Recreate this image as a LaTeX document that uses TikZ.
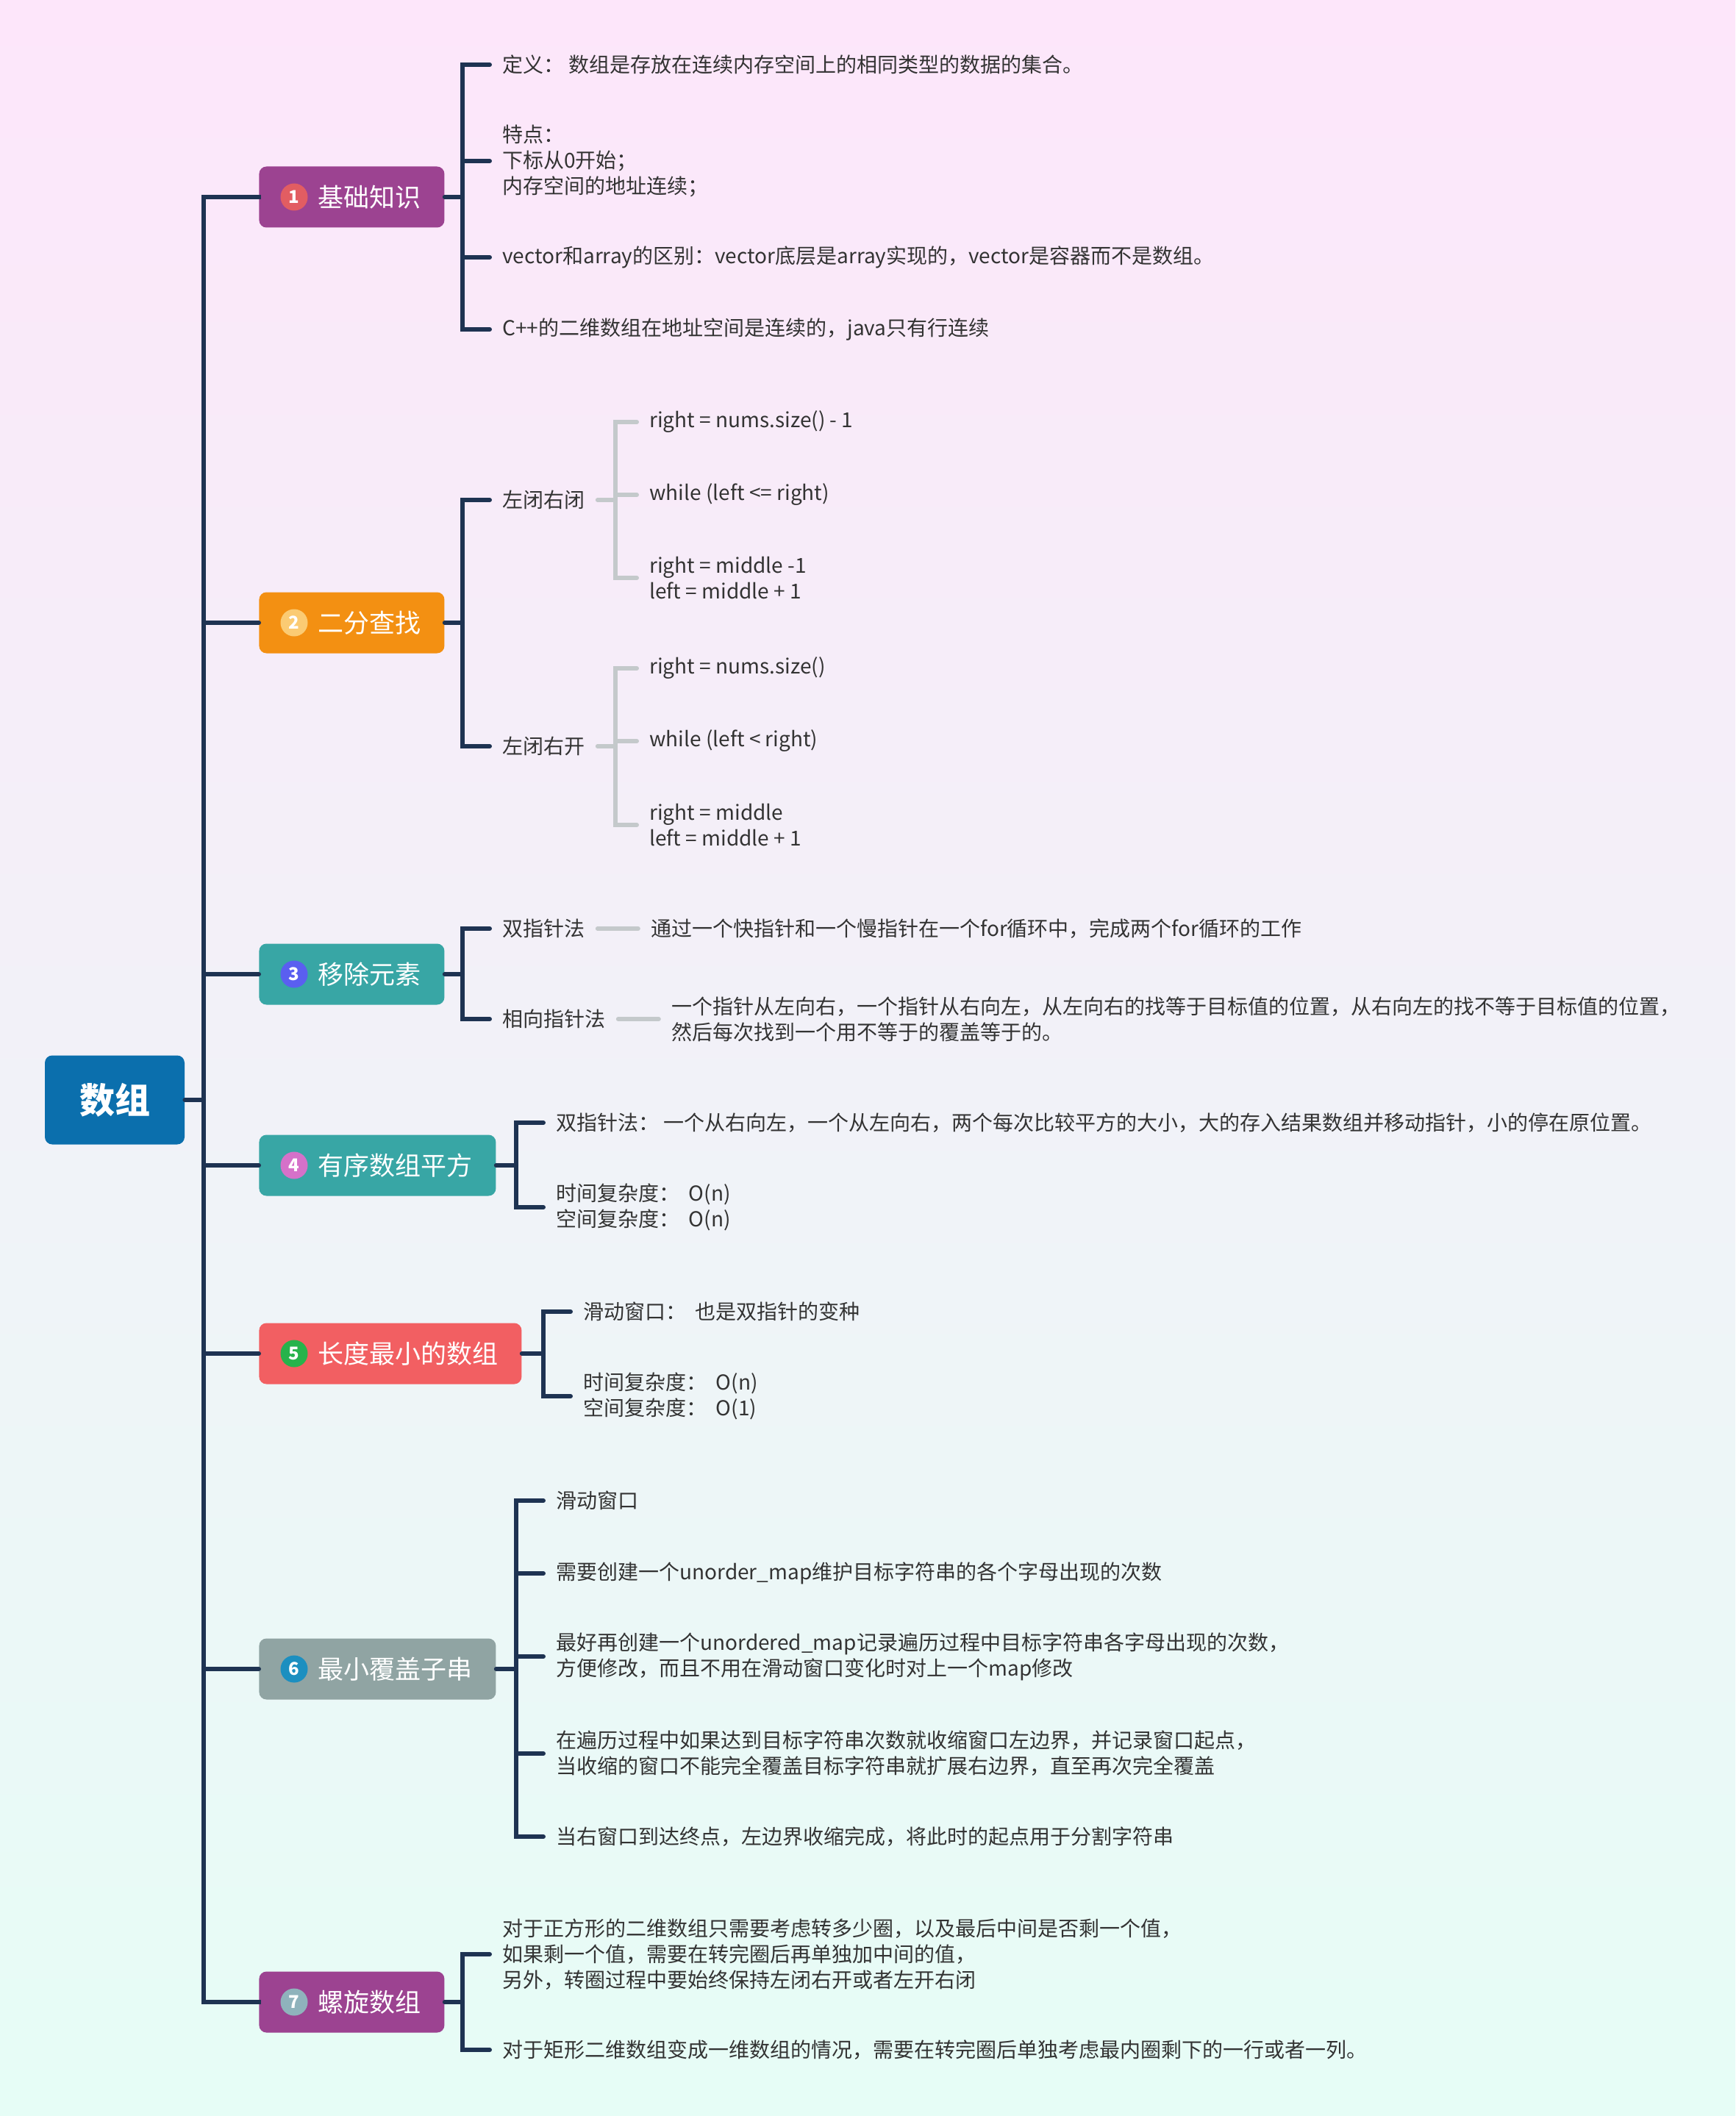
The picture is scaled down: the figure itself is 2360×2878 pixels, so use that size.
\documentclass[tikz,border=0pt]{standalone}
\usepackage{fontspec}
\setmainfont{Noto Sans CJK SC}
\definecolor{bgtop}{HTML}{FDE6FA}
\definecolor{bgmid}{HTML}{F0F2F8}
\definecolor{bgbot}{HTML}{E6FDF6}
\definecolor{navy}{HTML}{1E3352}
\definecolor{greyline}{HTML}{C4C9CB}
\definecolor{txt}{HTML}{333333}
\definecolor{rootblue}{HTML}{0B6FAD}
\definecolor{purplebox}{HTML}{9C4391}
\definecolor{orangebox}{HTML}{F39012}
\definecolor{tealbox}{HTML}{38A6A5}
\definecolor{redbox}{HTML}{F25F62}
\definecolor{greybox}{HTML}{90A4A3}
\definecolor{numA}{HTML}{E25D62}
\definecolor{numB}{HTML}{FBCB73}
\definecolor{numC}{HTML}{5A5FF0}
\definecolor{numD}{HTML}{D571C9}
\definecolor{numE}{HTML}{27B34B}
\definecolor{numF}{HTML}{1C8FC0}
\definecolor{numG}{HTML}{8FB3BC}
\begin{document}
\begin{tikzpicture}[x=0.5pt,y=-0.5pt,
  root/.style={fill=rootblue, rounded corners=5pt, minimum width=95pt, minimum height=60.5pt,
    text=white, font=\fontsize{24pt}{28pt}\selectfont\bfseries},
  topic/.style={anchor=west, rounded corners=5pt, minimum height=41.5pt, inner xsep=15.75pt,
    text=white, font=\fontsize{17.5pt}{21pt}\selectfont},
  num/.style={circle, minimum size=18.5pt, inner sep=0pt, text=white,
    font=\fontsize{12pt}{14pt}\selectfont\bfseries},
  leaf/.style={anchor=west, inner xsep=8.5pt, inner ysep=0pt, align=left, text=txt,
    font=\fontsize{14pt}{17.5pt}\selectfont},
  conn/.style={draw=navy, line width=3pt, line cap=round, line join=miter},
  trunk/.style={draw=navy, line width=3pt, line cap=rect, line join=miter},
  greyc/.style={draw=greyline, line width=3pt, line cap=round, line join=miter}]
\shade[top color=bgtop, middle color=bgmid, bottom color=bgbot] (0,0) rectangle (2360,2878);
\useasboundingbox (0,0) rectangle (2360,2878);

% root and topics
\node[root] (r) at (156,1496) {数组};
\node[topic, fill=purplebox] (n1) at (352,268) {\hspace*{24.5pt}基础知识};
\node[topic, fill=orangebox] (n2) at (352,847) {\hspace*{24.5pt}二分查找};
\node[topic, fill=tealbox] (n3) at (352,1325) {\hspace*{24.5pt}移除元素};
\node[topic, fill=tealbox] (n4) at (352,1585) {\hspace*{24.5pt}有序数组平方};
\node[topic, fill=redbox] (n5) at (352,1841) {\hspace*{24.5pt}长度最小的数组};
\node[topic, fill=greybox] (n6) at (352,2270) {\hspace*{24.5pt}最小覆盖子串};
\node[topic, fill=purplebox] (n7) at (352,2723) {\hspace*{24.5pt}螺旋数组};
\node[num, fill=numA] (k1) at ([xshift=24pt]n1.west) {1};
\node[num, fill=numB] (k2) at ([xshift=24pt]n2.west) {2};
\node[num, fill=numC] (k3) at ([xshift=24pt]n3.west) {3};
\node[num, fill=numD] (k4) at ([xshift=24pt]n4.west) {4};
\node[num, fill=numE] (k5) at ([xshift=24pt]n5.west) {5};
\node[num, fill=numF] (k6) at ([xshift=24pt]n6.west) {6};
\node[num, fill=numG] (k7) at ([xshift=24pt]n7.west) {7};

% trunk
\coordinate (tk) at (277,1496);
\draw[trunk] (n1.west) -- (tk |- n1.west) -- (tk |- n7.west) -- (n7.west);
\draw[conn] (r.east) -- (tk);
\foreach \n in {n2,n3,n4,n5,n6} { \draw[conn] (tk |- \n.west) -- (\n.west); }

% ---- 1 基础知识
\coordinate (B1) at (629,268);
\node[leaf] (a1) at (666,88) {定义： 数组是存放在连续内存空间上的相同类型的数据的集合。};
\node[leaf] (a2) at (666,219) {特点：\\下标从0开始；\\内存空间的地址连续；};
\node[leaf] (a3) at (666,350) {vector和array的区别：vector底层是array实现的，vector是容器而不是数组。};
\node[leaf] (a4) at (666,448) {C++的二维数组在地址空间是连续的，java只有行连续};
\draw[conn] (n1.east) -- (B1);
\draw[conn] (a1.west) -- (B1 |- a1.west) -- (B1 |- a4.west) -- (a4.west);
\foreach \l in {a2,a3} { \draw[conn] (B1 |- \l.west) -- (\l.west); }

% ---- 2 二分查找
\coordinate (B2) at (629,847);
\node[leaf] (b1) at (666,680) {左闭右闭};
\node[leaf] (b2) at (666,1015) {左闭右开};
\draw[conn] (n2.east) -- (B2);
\draw[conn] (b1.west) -- (B2 |- b1.west) -- (B2 |- b2.west) -- (b2.west);
\coordinate (G1) at (837,680);
\node[leaf] (b11) at (866,574) {right = nums.size() - 1};
\node[leaf] (b12) at (866,673) {while (left <= right)};
\node[leaf] (b13) at (866,786) {right = middle -1\\left = middle + 1};
\draw[greyc] (b1.east) -- (G1);
\draw[greyc] (b11.west) -- (G1 |- b11.west) -- (G1 |- b13.west) -- (b13.west);
\draw[greyc] (G1 |- b12.west) -- (b12.west);
\coordinate (G2) at (837,1015);
\node[leaf] (b21) at (866,909) {right = nums.size()};
\node[leaf] (b22) at (866,1008) {while (left < right)};
\node[leaf] (b23) at (866,1122) {right = middle\\left = middle + 1};
\draw[greyc] (b2.east) -- (G2);
\draw[greyc] (b21.west) -- (G2 |- b21.west) -- (G2 |- b23.west) -- (b23.west);
\draw[greyc] (G2 |- b22.west) -- (b22.west);

% ---- 3 移除元素
\coordinate (B3) at (629,1325);
\node[leaf] (c1) at (666,1263) {双指针法};
\node[leaf] (c2) at (666,1386) {相向指针法};
\draw[conn] (n3.east) -- (B3);
\draw[conn] (c1.west) -- (B3 |- c1.west) -- (B3 |- c2.west) -- (c2.west);
\node[leaf] (c11) at ([xshift=27.5pt]c1.east) {通过一个快指针和一个慢指针在一个for循环中，完成两个for循环的工作};
\node[leaf] (c21) at ([xshift=27.5pt]c2.east) {一个指针从左向右，一个指针从右向左，从左向右的找等于目标值的位置，从右向左的找不等于目标值的位置，\\然后每次找到一个用不等于的覆盖等于的。};
\draw[greyc] (c1.east) -- (c11.west);
\draw[greyc] (c2.east) -- (c21.west);

% ---- 4 有序数组平方
\coordinate (B4) at (702,1585);
\node[leaf] (d1) at (739,1527) {双指针法： 一个从右向左，一个从左向右，两个每次比较平方的大小，大的存入结果数组并移动指针，小的停在原位置。};
\node[leaf] (d2) at (739,1642) {时间复杂度：\ \ O(n)\\空间复杂度：\ \ O(n)};
\draw[conn] (n4.east) -- (B4);
\draw[conn] (d1.west) -- (B4 |- d1.west) -- (B4 |- d2.west) -- (d2.west);

% ---- 5 长度最小的数组
\coordinate (B5) at (739,1841);
\node[leaf] (e1) at (776,1784) {滑动窗口：\ \ 也是双指针的变种};
\node[leaf] (e2) at (776,1899) {时间复杂度：\ \ O(n)\\空间复杂度：\ \ O(1)};
\draw[conn] (n5.east) -- (B5);
\draw[conn] (e1.west) -- (B5 |- e1.west) -- (B5 |- e2.west) -- (e2.west);

% ---- 6 最小覆盖子串
\coordinate (B6) at (702,2270);
\node[leaf] (f1) at (739,2041) {滑动窗口};
\node[leaf] (f2) at (739,2140) {需要创建一个unorder\_map维护目标字符串的各个字母出现的次数};
\node[leaf] (f3) at (739,2253) {最好再创建一个unordered\_map记录遍历过程中目标字符串各字母出现的次数，\\方便修改，而且不用在滑动窗口变化时对上一个map修改};
\node[leaf] (f4) at (739,2385) {在遍历过程中如果达到目标字符串次数就收缩窗口左边界，并记录窗口起点，\\当收缩的窗口不能完全覆盖目标字符串就扩展右边界，直至再次完全覆盖};
\node[leaf] (f5) at (739,2498) {当右窗口到达终点，左边界收缩完成，将此时的起点用于分割字符串};
\draw[conn] (n6.east) -- (B6);
\draw[conn] (f1.west) -- (B6 |- f1.west) -- (B6 |- f5.west) -- (f5.west);
\foreach \l in {f2,f3,f4} { \draw[conn] (B6 |- \l.west) -- (\l.west); }

% ---- 7 螺旋数组
\coordinate (B7) at (629,2723);
\node[leaf] (g1) at (666,2658) {对于正方形的二维数组只需要考虑转多少圈，以及最后中间是否剩一个值，\\如果剩一个值，需要在转完圈后再单独加中间的值，\\另外，转圈过程中要始终保持左闭右开或者左开右闭};
\node[leaf] (g2) at (666,2788) {对于矩形二维数组变成一维数组的情况，需要在转完圈后单独考虑最内圈剩下的一行或者一列。};
\draw[conn] (n7.east) -- (B7);
\draw[conn] (g1.west) -- (B7 |- g1.west) -- (B7 |- g2.west) -- (g2.west);
\end{tikzpicture}
\end{document}
